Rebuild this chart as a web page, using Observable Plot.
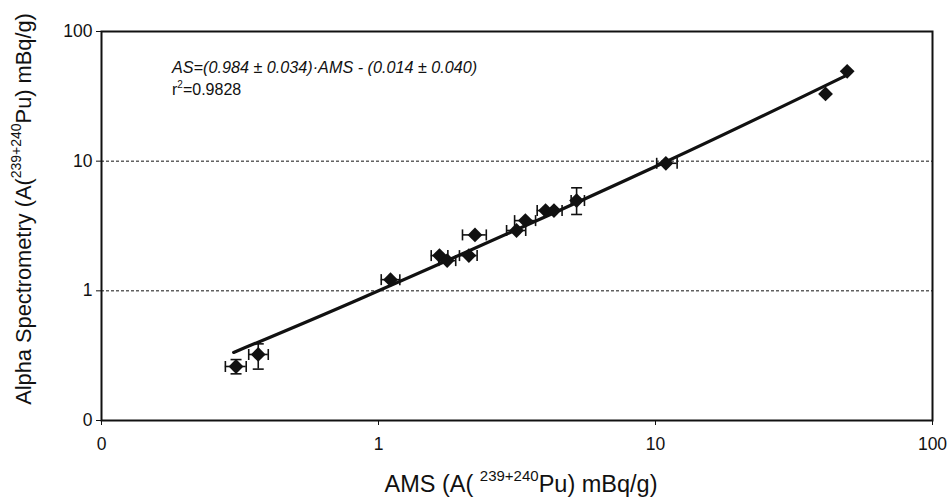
<!DOCTYPE html>
<html>
<head>
<meta charset="utf-8">
<script src="https://cdn.jsdelivr.net/npm/d3@7"></script>
<script src="https://cdn.jsdelivr.net/npm/@observablehq/plot@0.6"></script>
<style>
  html, body { margin: 0; padding: 0; background: #fff; }
  svg { display: block; }
</style>
</head>
<body>
<div id="chart"></div>
<script>
// AMS values (x) and Alpha Spectrometry values (y), mBq/g
const ams     = [0.306, 0.368, 1.105, 1.66, 1.77, 2.12, 2.23, 3.15, 3.39, 4.01, 4.30, 5.19, 10.9, 41.1, 49.2];
const alpha   = [0.261, 0.323, 1.22, 1.87, 1.71, 1.87, 2.70, 2.92, 3.48, 4.16, 4.16, 4.97, 9.63, 33.0, 49.3];
// horizontal error bars (AMS uncertainty)
const amsLo   = [0.280, 0.340, 1.023, 1.55, 1.65, 1.96, 2.01, 2.90, 3.10, 3.74, 4.00, 4.96, 10.1, null, null];
const amsHi   = [0.333, 0.400, 1.194, 1.78, 1.90, 2.27, 2.45, 3.40, 3.69, 4.30, 4.60, 5.54, 11.97, null, null];
// vertical error bars (alpha spectrometry uncertainty)
const alphaLo = [0.229, 0.249, null, null, null, null, null, null, null, null, null, 3.88, null, null, null];
const alphaHi = [0.295, 0.390, null, null, null, null, null, null, null, null, null, 6.23, null, null, null];

// regression line as drawn
const fitX = [0.30, 0.86, 10.9, 48.5];
const fitY = [0.335, 0.87, 9.9, 45.5];

// axis ticks
const tickValues = [0.1, 1, 10, 100];
const tickLabels = ["0", "1", "10", "100"];
const gridValues = [1, 10];

const equationText = "AS=(0.984 \u00B1 0.034)\u00B7AMS - (0.014 \u00B1 0.040)";
const r2Value = "=0.9828";

const points = ams.map((x, i) => ({x, y: alpha[i], xlo: amsLo[i], xhi: amsHi[i], ylo: alphaLo[i], yhi: alphaHi[i]}));
const xErr = points.filter(d => d.xlo != null);
const yErr = points.filter(d => d.ylo != null);
const fit = fitX.map((x, i) => ({x, y: fitY[i]}));

const diamond = {
  draw(ctx, size) {
    const h = 7.4;
    ctx.moveTo(0, -h); ctx.lineTo(h, 0); ctx.lineTo(0, h); ctx.lineTo(-h, 0); ctx.closePath();
  }
};
const vCap = { draw(ctx) { ctx.moveTo(0, -5.5); ctx.lineTo(0, 5.5); } };
const hCap = { draw(ctx) { ctx.moveTo(-5.5, 0); ctx.lineTo(5.5, 0); } };

const fontFamily = "'Liberation Sans', Arial, Helvetica, sans-serif";
const fmt = d => tickLabels[tickValues.indexOf(d)];

const chart = Plot.plot({
  width: 952,
  height: 500,
  marginLeft: 101,
  marginRight: 20,
  marginTop: 31,
  marginBottom: 80,
  style: {fontFamily, fontSize: "17px", color: "#111", background: "#fff"},
  x: {type: "log", domain: [0.1, 100]},
  y: {type: "log", domain: [0.1, 100]},
  marks: [
    Plot.ruleY(gridValues, {stroke: "#111", strokeWidth: 1, strokeDasharray: "3,2"}),
    Plot.axisX({ticks: tickValues, tickFormat: fmt, tickSize: 5, tickPadding: 12, fontSize: 17.5, label: null, stroke: "#111"}),
    Plot.axisY({ticks: tickValues, tickFormat: fmt, tickSize: 5, tickPadding: 4, fontSize: 17.5, label: null, stroke: "#111"}),
    Plot.line(fit, {x: "x", y: "y", stroke: "#111", strokeWidth: 3.2, curve: "catmull-rom"}),
    Plot.ruleY(xErr, {y: "y", x1: "xlo", x2: "xhi", stroke: "#111", strokeWidth: 1.6}),
    Plot.dot(xErr, {x: "xlo", y: "y", symbol: vCap, stroke: "#111", strokeWidth: 1.6, fill: "none"}),
    Plot.dot(xErr, {x: "xhi", y: "y", symbol: vCap, stroke: "#111", strokeWidth: 1.6, fill: "none"}),
    Plot.ruleX(yErr, {x: "x", y1: "ylo", y2: "yhi", stroke: "#111", strokeWidth: 1.6}),
    Plot.dot(yErr, {x: "x", y: "ylo", symbol: hCap, stroke: "#111", strokeWidth: 1.6, fill: "none"}),
    Plot.dot(yErr, {x: "x", y: "yhi", symbol: hCap, stroke: "#111", strokeWidth: 1.6, fill: "none"}),
    Plot.dot(points, {x: "x", y: "y", symbol: diamond, fill: "#111", stroke: "none"}),
    Plot.frame({stroke: "#111", strokeWidth: 2})
  ]
});

document.getElementById("chart").appendChild(chart);

const svg = d3.select(chart);

// equation annotation
svg.append("text")
  .attr("x", 172).attr("y", 73).attr("text-anchor", "start")
  .attr("font-family", fontFamily).attr("font-size", 16.2).attr("font-style", "italic")
  .attr("fill", "#111")
  .text(equationText);
const r2 = svg.append("text")
  .attr("x", 172).attr("y", 95).attr("text-anchor", "start")
  .attr("font-family", fontFamily).attr("font-size", 16).attr("fill", "#111");
r2.append("tspan").text("r");
r2.append("tspan").attr("dy", -7).attr("font-size", 10).text("2");
r2.append("tspan").attr("dy", 7).text(r2Value);

// x axis title with superscript
const xt = svg.append("text")
  .attr("x", 521).attr("y", 492).attr("text-anchor", "middle")
  .attr("font-family", fontFamily).attr("font-size", 23.5).attr("fill", "#111");
xt.append("tspan").text("AMS (A( ");
xt.append("tspan").attr("dy", -11).attr("font-size", 15).text("239+240");
xt.append("tspan").attr("dy", 11).text("Pu) mBq/g)");

// y axis title with superscript
const yt = svg.append("text")
  .attr("transform", "translate(31,209) rotate(-90)").attr("text-anchor", "middle")
  .attr("font-family", fontFamily).attr("font-size", 21.8).attr("fill", "#111");
yt.append("tspan").text("Alpha Spectrometry (A(");
yt.append("tspan").attr("dy", -10).attr("font-size", 14).text("239+240");
yt.append("tspan").attr("dy", 10).text("Pu) mBq/g)");
</script>
</body>
</html>
